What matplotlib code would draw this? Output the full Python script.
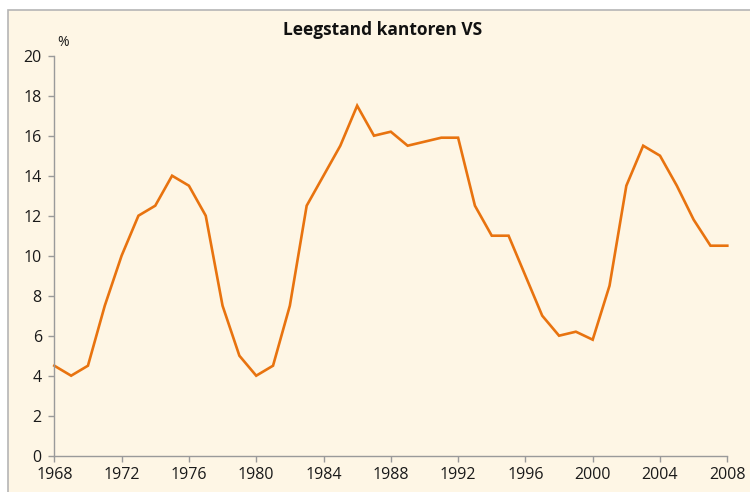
import matplotlib
matplotlib.use("Agg")
import matplotlib.pyplot as plt
from matplotlib.patches import Rectangle

years = list(range(1968, 2009))
vacancy = [4.5, 4.0, 4.5, 7.5, 10.0, 12.0, 12.5, 14.0, 13.5, 12.0,
           7.5, 5.0, 4.0, 4.5, 7.5, 12.5, 14.0, 15.5, 17.5, 16.0,
           16.2, 15.5, 15.7, 15.9, 15.9, 12.5, 11.0, 11.0, 9.0, 7.0,
           6.0, 6.2, 5.8, 8.5, 13.5, 15.5, 15.0, 13.5, 11.8, 10.5, 10.5]
x_ticks = list(range(1968, 2009, 4))
y_ticks = list(range(0, 21, 2))
title = "Leegstand kantoren VS"
unit = "%"

bg = "#FEF6E5"
line_col = "#E8730F"
axis_col = "#9A9A9A"

plt.rcParams['font.family'] = ['Open Sans', 'DejaVu Sans']

fig = plt.figure(figsize=(7.5, 4.92), dpi=100)
fig.patch.set_facecolor("white")
W, H = 750, 492
fig.patches.append(Rectangle((8 / W, -0.1), 1.2, (H - 10) / H + 0.1,
                             transform=fig.transFigure, facecolor=bg,
                             edgecolor="#B5B5B5", linewidth=1.2, zorder=-5))

ax = fig.add_axes([54.3 / W, (H - 455.7) / H, (727.3 - 54.3) / W, (455.7 - 55.7) / H])
ax.set_zorder(2)
ax.set_facecolor("none")
ax.plot(years, vacancy, color=line_col, linewidth=1.9, solid_joinstyle="miter", clip_on=False)
ax.set_xlim(1968, 2008)
ax.set_ylim(0, 20)
ax.set_xticks(x_ticks)
ax.set_yticks(y_ticks)
for s in ["top", "right"]:
    ax.spines[s].set_visible(False)
for s in ["left", "bottom"]:
    ax.spines[s].set_color(axis_col)
    ax.spines[s].set_linewidth(1.0)
ax.tick_params(axis="both", colors=axis_col, length=4, width=1.0, labelsize=11.5,
               labelcolor="#1a1a1a")
ax.tick_params(axis="y", pad=5)
ax.tick_params(axis="x", pad=4)

fig.text(383 / W, 1 - 30 / H, title, ha="center", va="center",
         fontsize=12.5, fontweight="bold", color="#111111", zorder=3)
fig.text(63 / W, 1 - 43 / H, unit, ha="center", va="center",
         fontsize=10, color="#1a1a1a", zorder=3)

fig.savefig("out.png", dpi=100, facecolor=fig.get_facecolor())
